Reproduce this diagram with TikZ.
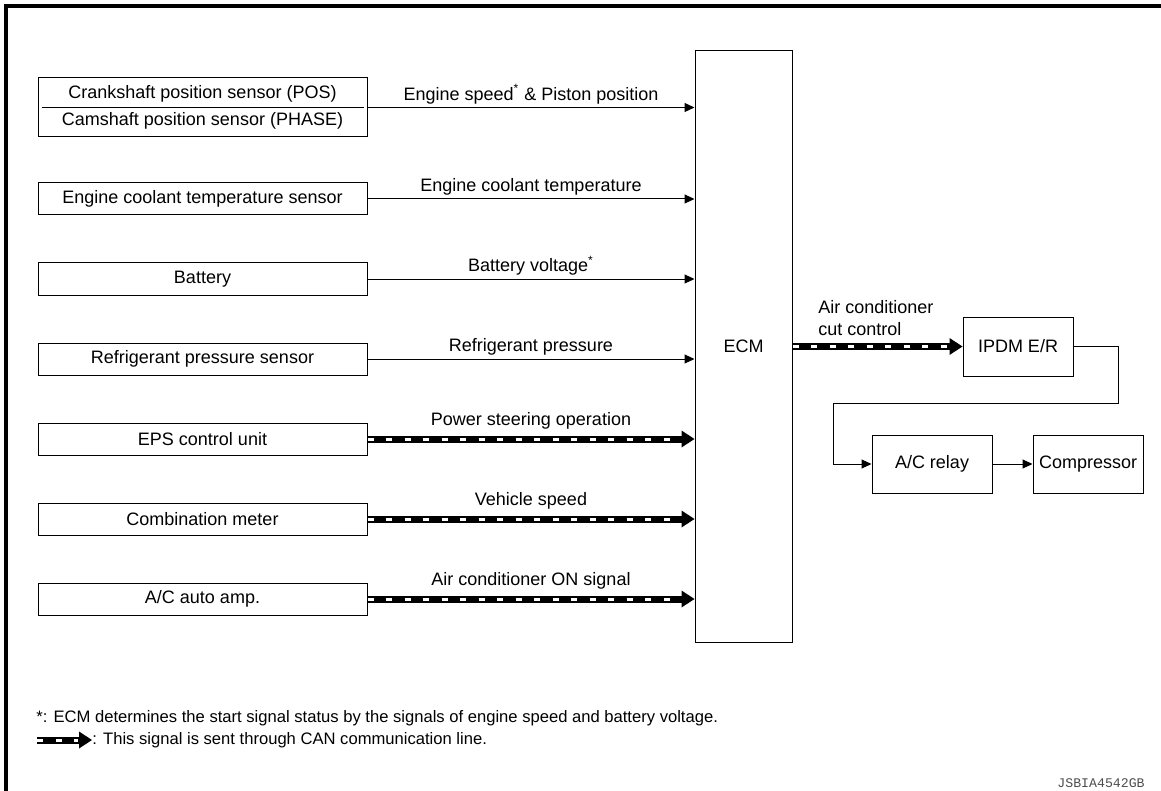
\documentclass[tikz,border=0pt]{standalone}
\usepackage{fontspec}
\setmainfont{Liberation Sans}
\setmonofont{Liberation Mono}
\usetikzlibrary{positioning,arrows.meta}

\begin{document}
\begin{tikzpicture}[x=0.5pt,y=-0.5pt,node distance=23.5pt,
    font=\fontsize{9}{11}\selectfont]
  \tikzstyle{sensor}=[draw,line width=0.5pt,inner sep=0pt,
    minimum width=164.5pt,minimum height=16pt]
  \tikzstyle{sig}=[line width=0.5pt,-{Triangle[length=5pt,width=4.5pt]}]
  \tikzstyle{can}=[line width=3.5pt,
    -{Triangle[length=6.5pt,width=8.5pt,line width=0pt]},
    postaction={draw=white,line width=1.5pt,arrows=-,shorten >=7pt,
      dash pattern=on 3pt off 6.25pt}]
  \tikzstyle{lbl}=[above,inner sep=1.5pt]
  \tikzstyle{note}=[anchor=west,inner sep=0pt,font=\fontsize{8.3}{10}\selectfont]
  \useasboundingbox (0,0) rectangle (1161,791);
  \draw[line width=2pt] (1161,6) -- (6,6) -- (6,791);
  \node[sensor,minimum height=29.5pt,align=center,
    font=\fontsize{9}{13.5}\selectfont] (crank) at (202.5,107.5)
    {Crankshaft position sensor (POS)\\Camshaft position sensor (PHASE)};
  \draw[line width=0.5pt] ([xshift=2pt]crank.west) -- ([xshift=-2pt]crank.east);
  \node[sensor,below=22.5pt of crank] (ect) {Engine coolant temperature sensor};
  \node[sensor,below=of ect] (batt) {Battery};
  \node[sensor,below=of batt] (refr) {Refrigerant pressure sensor};
  \node[sensor,below=of refr] (eps) {EPS control unit};
  \node[sensor,below=of eps] (meter) {Combination meter};
  \node[sensor,below=of meter] (acamp) {A/C auto amp.};
  \node[draw,line width=0.5pt,inner sep=0pt,minimum width=48.5pt,
    minimum height=295.5pt] (ecm) at (743.5,346.5) {ECM};
  \draw[sig] (crank.east) -- (crank.east -| ecm.west)
    node[lbl,midway] {Engine speed\textsuperscript{*} \& Piston position};
  \draw[sig] (ect.east) -- (ect.east -| ecm.west)
    node[lbl,midway] {Engine coolant temperature};
  \draw[sig] (batt.east) -- (batt.east -| ecm.west)
    node[lbl,midway] {Battery voltage\textsuperscript{*}};
  \draw[sig] (refr.east) -- (refr.east -| ecm.west)
    node[lbl,midway] {Refrigerant pressure};
  \draw[can] (eps.east) -- (eps.east -| ecm.west)
    node[lbl,midway,inner sep=3pt] {Power steering operation};
  \draw[can] (meter.east) -- (meter.east -| ecm.west)
    node[lbl,midway,inner sep=3pt] {Vehicle speed};
  \draw[can] (acamp.east) -- (acamp.east -| ecm.west)
    node[lbl,midway,inner sep=3pt] {Air conditioner ON signal};
  \node[sensor,minimum width=55pt,minimum height=29.5pt] (ipdm) at (1018,346.5) {IPDM E/R};
  \node[sensor,minimum width=60pt,minimum height=29pt] (relay) at (932,464) {A/C relay};
  \node[sensor,minimum width=55pt,minimum height=29pt,right=20pt of relay] (comp) {Compressor};
  \draw[can] (ecm.east |- ipdm.west) -- (ipdm.west);
  \node[align=left,anchor=south west,inner sep=0pt] (cutlbl) at (818,336)
    {Air conditioner\\cut control};
  \coordinate (turnR) at (1118,403);
  \coordinate (turnL) at (833,403);
  \draw[sig] (ipdm.east) -| (turnR) -- (turnL) |- (relay.west);
  \draw[sig] (relay) -- (comp);
  \node[note] (star) at (36,718)
    {*: ECM determines the start signal status by the signals of engine speed and battery voltage.};
  \coordinate (legA) at (37,740);
  \node[note] (legtxt) at (92,740)
    {: This signal is sent through CAN communication line.};
  \draw[can] (legA) -- (legtxt.west);
  \node[anchor=east,inner sep=0pt,font=\ttfamily\fontsize{6.6}{7}\selectfont,
    text=black!70] (code) at (1145,783) {JSBIA4542GB};
\end{tikzpicture}
\end{document}
